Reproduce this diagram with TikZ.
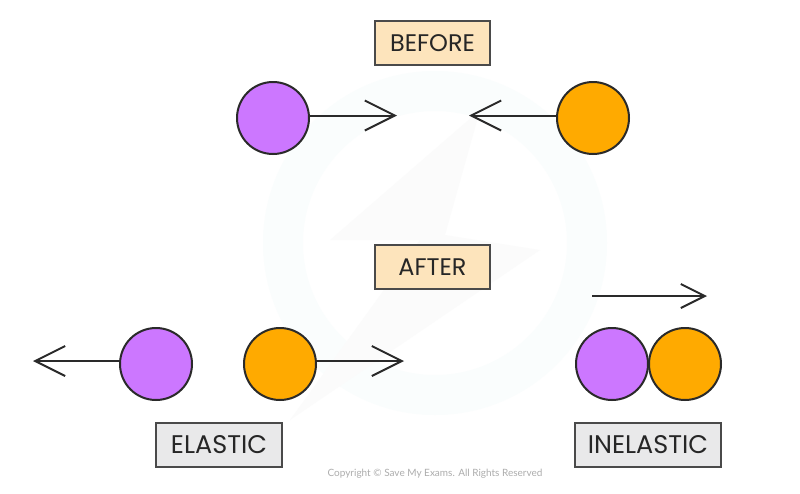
\documentclass[tikz,border=0pt]{standalone}
\usepackage{fontspec}
\setmainfont{Poppins}
\newfontfamily\smallfont{Lato}
\usetikzlibrary{arrows.meta}
\definecolor{ballp}{HTML}{CC77FF}
\definecolor{ballo}{HTML}{FFAA00}
\definecolor{tan}{HTML}{FDE4BC}
\definecolor{gry}{HTML}{E9E9EA}
\definecolor{edge}{HTML}{2A2A2A}
\definecolor{wmb}{HTML}{FAFDFD}
\definecolor{wmg}{HTML}{FBFBFB}
\tikzset{
  x=1pt,y=-1pt,
  ball/.style={circle,draw=edge,line width=2pt,minimum size=72pt,inner sep=0pt},
  pball/.style={ball,fill=ballp},
  oball/.style={ball,fill=ballo},
  lab/.style={draw=edge!85,line width=1.3pt,minimum height=44pt,inner sep=0pt,text=black!85},
  tanlab/.style={lab,fill=tan,minimum width=115pt,font=\fontsize{24}{24}\selectfont},
  grylab/.style={lab,fill=gry,font=\fontsize{25.5}{26}\selectfont},
  vec/.style={draw=edge,line width=2pt,-{Straight Barb[length=30pt,width=30pt,line width=2pt]}},
  vecs/.style={draw=edge,line width=2pt,-{Straight Barb[length=24pt,width=24pt,line width=2pt]}},
}
\begin{document}
\begin{tikzpicture}
\useasboundingbox (0,0) rectangle (800,493);
\fill[white] (0,0) rectangle (800,493);
% faint watermark
\fill[wmb,even odd rule] (435,243) circle[radius=172] (435,243) circle[radius=132];
\fill[wmg] (480,110) -- (330,240) -- (420,240) -- (290,420) -- (540,250) -- (445,235) -- cycle;
% balls
\node[pball] (p1) at (273,118) {};
\node[oball] (o1) at (593,118) {};
\node[pball] (p2) at (156,364) {};
\node[oball] (o2) at (280,364) {};
\node[pball] (p3) at (612,364) {};
\node[oball] (o3) at (685,364) {};
% labels
\node[tanlab] (before) at (432.5,43) {BEFORE};
\node[tanlab] (after) at (432.5,267) {AFTER};
\node[grylab,minimum width=126pt] (elastic) at (219,445) {ELASTIC};
\node[grylab,minimum width=146pt] (inelastic) at (648,445) {INELASTIC};
\node[text=black!32,font=\smallfont\fontsize{10}{11}\selectfont,inner sep=0pt] (copy) at (435,474) {Copyright © Save My Exams. All Rights Reserved};
% arrow ends
\coordinate (t1) at (397,115.5);
\coordinate (t2) at (469,115.5);
\coordinate (t3) at (33,361);
\coordinate (t4) at (404,361);
\coordinate (s5) at (592,296);
\coordinate (t5) at (707,296);
% arrows
\draw[vec] (t1 -| p1.east) -- (t1);
\draw[vec] (t2 -| o1.west) -- (t2);
\draw[vec] (t3 -| p2.west) -- (t3);
\draw[vec] (t4 -| o2.east) -- (t4);
\draw[vecs] (s5) -- (t5);
\end{tikzpicture}
\end{document}
